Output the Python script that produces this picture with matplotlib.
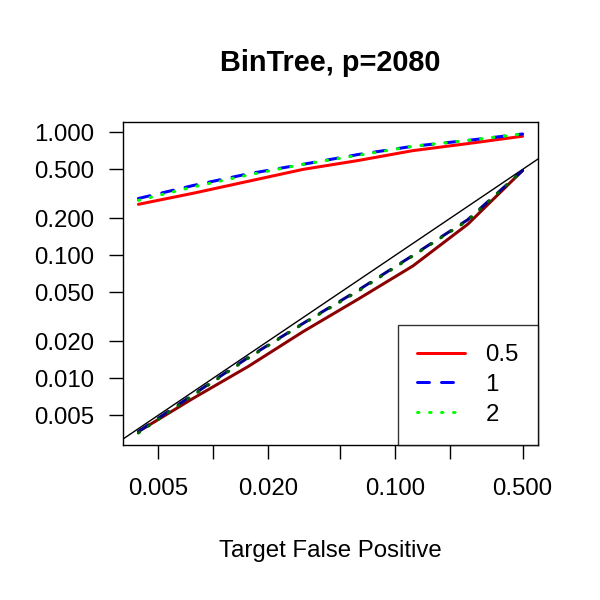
import numpy as np
import matplotlib
matplotlib.use("Agg")
import matplotlib.pyplot as plt

# ---- data ----
target_fp = [2**-8, 2**-7, 2**-6, 2**-5, 2**-4, 2**-3, 2**-2, 2**-1]
series_labels = ["0.5", "1", "2"]
upper_05 = [0.26, 0.32, 0.40, 0.50, 0.59, 0.71, 0.81, 0.93]
upper_1 = [0.29, 0.37, 0.46, 0.55, 0.66, 0.77, 0.86, 0.97]
upper_2 = [0.28, 0.36, 0.45, 0.55, 0.65, 0.77, 0.86, 0.97]
lower_05 = [0.0037, 0.0069, 0.0125, 0.024, 0.044, 0.082, 0.179, 0.49]
lower_1 = [0.0037, 0.0074, 0.0148, 0.028, 0.052, 0.100, 0.195, 0.49]
lower_2 = [0.0036, 0.0073, 0.0146, 0.0278, 0.051, 0.099, 0.192, 0.49]
x_ticks = [0.005, 0.01, 0.02, 0.05, 0.1, 0.2, 0.5]
x_ticklabels = ["0.005", "", "0.020", "", "0.100", "", "0.500"]
y_ticks = [0.005, 0.01, 0.02, 0.05, 0.1, 0.2, 0.5, 1.0]
y_ticklabels = ["0.005", "0.010", "0.020", "0.050", "0.100", "0.200", "0.500", "1.000"]
title = "BinTree, p=2080"
xlabel = "Target False Positive"

plt.rcParams['font.family'] = ['Liberation Sans', 'DejaVu Sans']
FS = 17.3

fig = plt.figure(figsize=(6, 6), dpi=100)
ax = fig.add_axes([123/600, 1-445/600, (538-123)/600, (445-122)/600])
ax.set_xscale('log')
ax.set_yscale('log')

lw = 2.16
ax.plot(target_fp, upper_05, color='red', lw=lw, solid_capstyle='round', label=series_labels[0])
ax.plot(target_fp, upper_1, color='blue', lw=lw, dashes=(4, 4), dash_capstyle='round', label=series_labels[1])
ax.plot(target_fp, upper_2, color='#00ff00', lw=lw, dashes=(0.5, 3.5), dash_capstyle='round', label=series_labels[2])
ax.plot(target_fp, lower_05, color='#8b0000', lw=lw, solid_capstyle='round')
ax.plot(target_fp, lower_1, color='#00008b', lw=lw, dashes=(4, 4), dash_capstyle='round')
ax.plot(target_fp, lower_2, color='#006400', lw=lw, dashes=(0.5, 3.5), dash_capstyle='round')

# limits with R-style 4% padding in log space
def padded(vals):
    lo, hi = np.log10(min(vals)), np.log10(max(vals))
    r = hi - lo
    return 10**(lo - 0.04*r), 10**(hi + 0.04*r)

xl = padded(target_fp)
yl = padded(upper_05 + upper_1 + upper_2 + lower_05 + lower_1 + lower_2)
ax.set_xlim(*xl)
ax.set_ylim(*yl)
ax.axline((1e-3, 1e-3), (1.0, 1.0), color='black', lw=1.0, zorder=1)

ax.set_xticks(x_ticks)
ax.set_xticklabels(x_ticklabels)
ax.set_yticks(y_ticks)
ax.set_yticklabels(y_ticklabels)
ax.minorticks_off()
ax.tick_params(axis='both', direction='out', length=10, width=1.0, labelsize=FS, color='black')
ax.tick_params(axis='x', pad=14)
ax.tick_params(axis='y', pad=11)
for s in ax.spines.values():
    s.set_linewidth(1.0)

cx = (123 + 538) / 1200
fig.text(cx, 1-63/600, title, ha='center', va='center', fontsize=FS*1.2, fontweight='bold')
fig.text(cx, 1-551/600, xlabel, ha='center', va='center', fontsize=FS)

leg = ax.legend(loc='lower right', borderaxespad=0, frameon=True, fancybox=False,
                fontsize=FS, handlelength=2.0, handletextpad=0.85, borderpad=0.8,
                labelspacing=0.33)
leg.get_frame().set_edgecolor('black')
leg.get_frame().set_linewidth(1.0)

fig.savefig('out.png', dpi=100)
